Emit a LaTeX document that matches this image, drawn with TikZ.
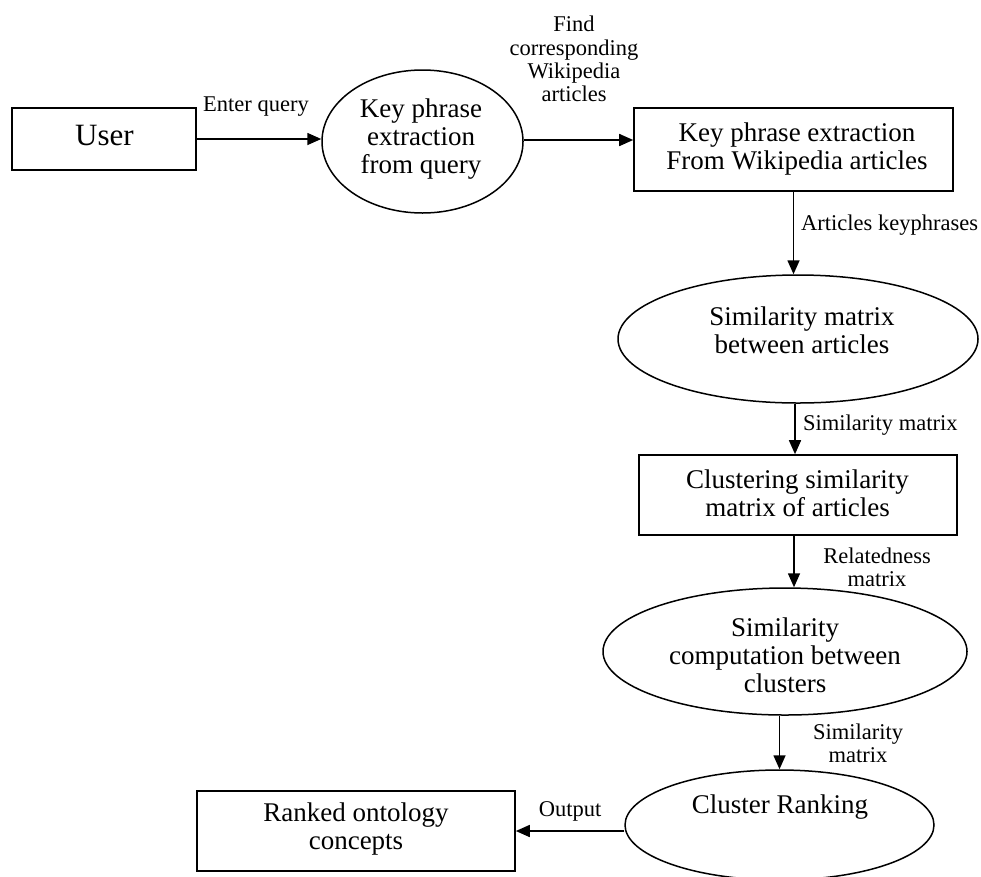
\documentclass[tikz,border=0pt]{standalone}
\usepackage{fontspec}
\setmainfont{Liberation Serif}
\usetikzlibrary{arrows.meta,shapes.geometric}
\begin{document}
\begin{tikzpicture}[x=1pt,y=-1pt,
  box/.style={draw,line width=1.6pt,rectangle,inner sep=0pt},
  ell/.style={draw,line width=1.5pt,ellipse,inner sep=0pt},
  ntext/.style={align=center,font=\fontsize{27}{28}\selectfont,inner sep=0pt},
  ltext/.style={align=center,font=\fontsize{22.5}{23.3}\selectfont,inner sep=0pt},
  arr/.style={line width=1.6pt,-{Triangle[length=14pt,width=12pt]}}]
\useasboundingbox (0,0) rectangle (981,876);
\clip (0,0) rectangle (981,876);

% shapes
\node[box,minimum width=184pt,minimum height=62pt] (user) at (104,139) {};
\node[ell,minimum width=201pt,minimum height=143pt] (e1) at (422.5,141.5) {};
\node[box,minimum width=319pt,minimum height=83pt] (box2) at (793.5,149.5) {};
\node[ell,minimum width=360pt,minimum height=128pt] (e2) at (798,339) {};
\node[box,minimum width=318pt,minimum height=80pt] (box3) at (798,495) {};
\node[ell,minimum width=364pt,minimum height=127pt] (e3) at (785,651.5) {};
\node[ell,minimum width=309pt,minimum height=110pt] (e4) at (779.5,825) {};
\node[box,minimum width=318pt,minimum height=80pt] (box4) at (356,831) {};

% node texts
\node[ntext,font=\fontsize{31}{34}\selectfont] (usert) at (104.5,135) {User};
\node[ntext] (e1t) at (421,139) {Key phrase\\extraction\\from query};
\node[ntext] (box2t) at (797,149) {Key phrase extraction\\From Wikipedia articles};
\node[ntext] (e2t) at (802,330) {Similarity matrix\\between articles};
\node[ntext] (box3t) at (797.5,493) {Clustering similarity\\matrix of articles};
\node[ntext] (e3t) at (785,655) {Similarity\\computation between\\clusters};
\node[ntext] (e4t) at (780,807.5) {Cluster Ranking};
\node[ntext] (box4t) at (356,829) {Ranked ontology\\concepts};

% connectors
\draw[arr] (user.east) -- (user.east -| e1.west);
\draw[arr] ([yshift=1.5pt]e1.east) -- ([yshift=1.5pt]e1.east -| box2.west);
\draw[arr] (box2.south) -- (box2.south |- e2.north);
\draw[arr] ([xshift=-3pt]e2.south) -- ([xshift=-3pt]e2.south |- box3.north);
\draw[arr] ([xshift=-4pt]box3.south) -- ([xshift=-4pt]box3.south |- e3.north);
\draw[arr] (e4.north |- e3.south) -- (e4.north);
\draw[arr] (box4.east -| e4.west) -- (box4.east);

% connector labels
\node[ltext] (l1) at (256,107) {Enter query};
\node[ltext] (l2) at (574,59) {Find\\corresponding\\Wikipedia\\articles};
\node[ltext,anchor=west] (l3) at (801,225) {Articles keyphrases};
\node[ltext,anchor=west] (l4) at (803,425) {Similarity matrix};
\node[ltext] (l5) at (877,567) {Relatedness\\matrix};
\node[ltext] (l6) at (858,743) {Similarity\\matrix};
\node[ltext] (l7) at (570,811) {Output};
\end{tikzpicture}
\end{document}
